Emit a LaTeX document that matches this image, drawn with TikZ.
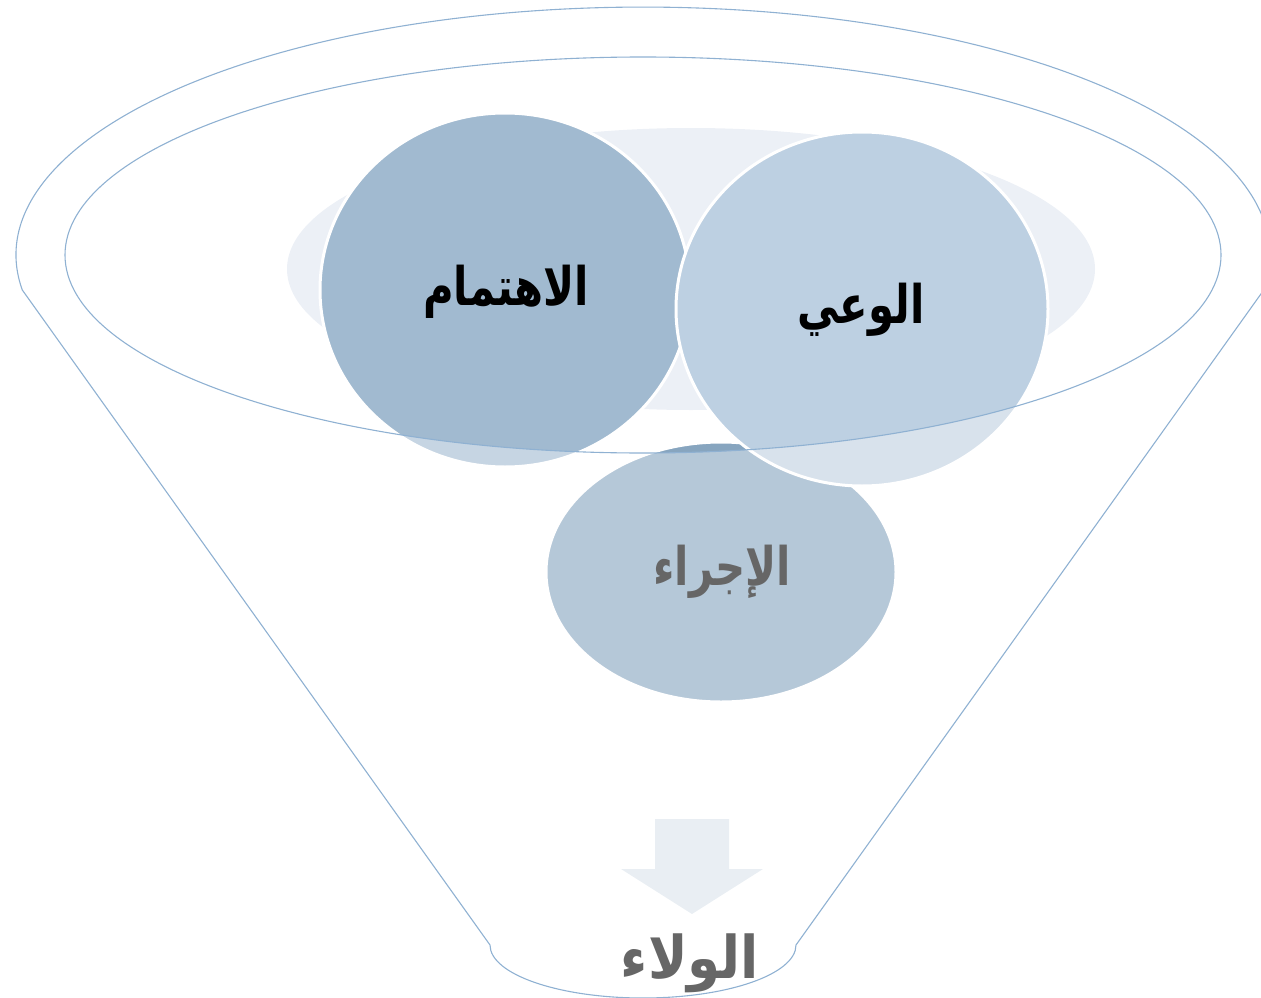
\documentclass[tikz,border=0pt]{standalone}
\usepackage{fontspec}
\usepackage{graphicx}
\TeXXeTstate=1
\newfontfamily\arabicfont[Script=Arabic]{DejaVu Sans}
\definecolor{rimline}{HTML}{8FB1D2}
\definecolor{haze}{HTML}{ECF0F6}
\definecolor{cA}{HTML}{A1BAD0}
\definecolor{cAlow}{HTML}{C6D5E3}
\definecolor{cB}{HTML}{BDD0E2}
\definecolor{cBlow}{HTML}{D8E2EC}
\definecolor{cC}{HTML}{B5C8D8}
\definecolor{cCtop}{HTML}{87A5BF}
\definecolor{arrowfill}{HTML}{E9EEF3}
\definecolor{greytext}{HTML}{666666}
\newcommand{\artext}[1]{\scalebox{1.1}[1.4]{\beginR #1\endR}}
\tikzset{
  rim/.style={draw=rimline, line width=1.1pt},
  ring/.style={draw=white, line width=3pt},
  label/.style={font=\arabicfont\bfseries\fontsize{38}{42}\selectfont, inner sep=0pt}
}
\begin{document}
\begin{tikzpicture}[x=1pt, y=-1pt]
\useasboundingbox (0,0) rectangle (1261,998);

% soft backdrop inside the opening
\fill[haze] (691,269) ellipse[x radius=404, y radius=141];

% third circle (action)
\fill[cC] (721,572) ellipse[x radius=175, y radius=130];
\begin{scope}
  \clip (643,255) ellipse[x radius=578, y radius=198];
  \fill[cCtop] (721,572) ellipse[x radius=175, y radius=130];
\end{scope}
\draw[ring] (721,572) ellipse[x radius=175, y radius=130];

% first circle (interest)
\fill[cAlow] (505,290) ellipse[x radius=185, y radius=177];
\begin{scope}
  \clip (643,255) ellipse[x radius=578, y radius=198];
  \fill[cA] (505,290) ellipse[x radius=185, y radius=177];
\end{scope}
\draw[ring] (505,290) ellipse[x radius=185, y radius=177];

% second circle (awareness)
\fill[cBlow] (862,309) ellipse[x radius=186, y radius=177];
\begin{scope}
  \clip (643,255) ellipse[x radius=578, y radius=198];
  \fill[cB] (862,309) ellipse[x radius=186, y radius=177];
\end{scope}
\draw[ring] (862,309) ellipse[x radius=186, y radius=177];

% funnel
\draw[rim] (643,255) ellipse[x radius=578, y radius=198];
\coordinate (lt) at (22.3,290);
\coordinate (rt) at (1263.7,290);
\coordinate (lb) at (490,945);
\coordinate (rb) at (796,945);
\draw[rim] (lt) arc[start angle=171.9, end angle=368.1, x radius=627, y radius=248]
  -- (rb) arc[start angle=0, end angle=180, x radius=153, y radius=53] -- cycle;

% arrow towards the outcome
\fill[arrowfill] (655,819) -- (729,819) -- (729,869) -- (763,869) -- (692,914)
  -- (621,869) -- (655,869) -- cycle;

% labels
\node[label, text=black] (tA) at (506,292) {\artext{الاهتمام}};
\node[label, text=black] (tB) at (861,310) {\artext{الوعي}};
\node[label, text=greytext] (tC) at (722,572) {\artext{الإجراء}};
\node[label, text=greytext] (tD) at (690,963) {\scalebox{1.4}[1.55]{\beginR الولاء\endR}};
\end{tikzpicture}
\end{document}
